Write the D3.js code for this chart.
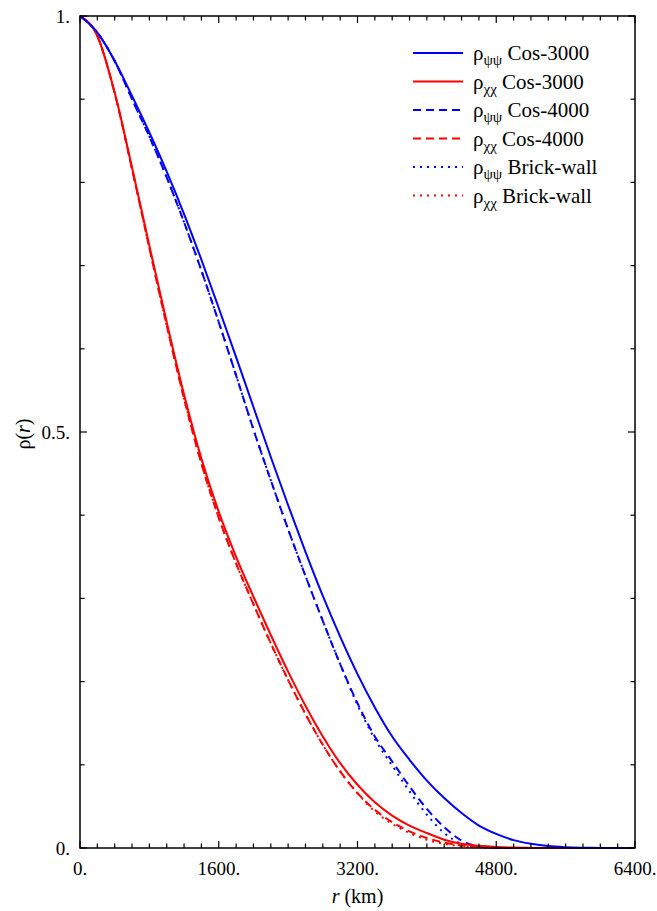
<!DOCTYPE html>
<html>
<head>
<meta charset="utf-8">
<script src="https://cdn.jsdelivr.net/npm/d3@7"></script>
<style>
  body { margin: 0; background: #fff; }
</style>
</head>
<body>
<div class="chart"></div>
<script>
// r grid in km (every 200 km)
const radius = [0,200,400,600,800,1000,1200,1400,1600,1800,2000,2200,2400,2600,2800,3000,
  3200,3400,3600,3800,4000,4200,4400,4600,4800,5000,5200,5400,5600,5800,6000,6200,6400];

// rho_psipsi, Cos-3000
const psiCos3000 = [1,0.98,0.946,0.904,0.86,0.813,0.762,0.707,0.649,0.59,0.53,0.47,0.412,0.356,0.303,0.254,
  0.209,0.169,0.134,0.106,0.081,0.06,0.042,0.027,0.017,0.0095,0.0051,0.0023,0.001,0.0004,0.0001,0,0];
// rho_chichi, Cos-3000
const chiCos3000 = [1,0.976,0.908,0.818,0.724,0.632,0.545,0.468,0.404,0.35,0.302,0.256,0.212,0.171,0.134,0.102,
  0.076,0.055,0.039,0.027,0.018,0.01,0.005,0.0026,0.0012,0.0005,0.0002,0,0,0,0,0,0];
// rho_psipsi, Cos-4000
const psiCos4000 = [1,0.98,0.946,0.9,0.855,0.806,0.752,0.694,0.632,0.568,0.503,0.442,0.383,0.327,0.273,0.221,
  0.174,0.134,0.104,0.074,0.047,0.025,0.009,0.002,0.0003,0,0,0,0,0,0,0,0];
// rho_chichi, Cos-4000
const chiCos4000 = [1,0.976,0.907,0.816,0.721,0.628,0.54,0.462,0.397,0.342,0.293,0.246,0.202,0.161,0.124,0.092,
  0.066,0.046,0.031,0.02,0.012,0.0065,0.003,0.0012,0.0004,0,0,0,0,0,0,0,0];
// rho_psipsi, Brick-wall
const psiBrick = [1,0.98,0.946,0.9,0.855,0.806,0.752,0.694,0.632,0.568,0.503,0.442,0.383,0.327,0.273,0.221,
  0.172,0.131,0.099,0.068,0.04,0.018,0.005,0.0008,0,0,0,0,0,0,0,0,0];
// rho_chichi, Brick-wall
const chiBrick = [1,0.976,0.907,0.816,0.721,0.628,0.54,0.462,0.397,0.342,0.293,0.246,0.202,0.161,0.124,0.092,
  0.066,0.044,0.029,0.018,0.01,0.005,0.002,0.0007,0,0,0,0,0,0,0,0,0];

const seriesNames = ["\u03C8\u03C8", "\u03C7\u03C7", "\u03C8\u03C8", "\u03C7\u03C7", "\u03C8\u03C8", "\u03C7\u03C7"];
const seriesModels = ["Cos-3000", "Cos-3000", "Cos-4000", "Cos-4000", "Brick-wall", "Brick-wall"];
const seriesValues = [psiCos3000, chiCos3000, psiCos4000, chiCos4000, psiBrick, chiBrick];

const xTicks = [0,1600,3200,4800,6400];
const yTicks = [0,0.5,1];

const W = 657, H = 911;
const margin = { top: 16, right: 22, bottom: 63, left: 80 };
const serif = "'Liberation Serif', 'Times New Roman', 'DejaVu Serif', serif";

const colors = ["#0000ff", "#ff0000", "#0000ff", "#ff0000", "#0000ff", "#ff0000"];
const dashes = [null, null, "8,5", "8,5", "2,5", "2,5"];

const svg = d3.select(".chart").append("svg")
  .attr("width", W).attr("height", H)
  .attr("font-family", serif)
  .style("font-family", serif);

const x = d3.scaleLinear().domain([0,6400]).range([margin.left, W - margin.right]);
const y = d3.scaleLinear().domain([0,1]).range([H - margin.bottom, margin.top]);

const line = d3.line()
  .x((d,i) => x(radius[i]))
  .y(d => y(d))
  .curve(d3.curveMonotoneX);

const plot = svg.append("g");
plot.append("defs").append("clipPath").attr("id","clip")
  .append("rect").attr("x", x(0)).attr("y", y(1) - 2)
  .attr("width", x(6400) - x(0)).attr("height", y(0) - y(1) + 3);

// draw in reverse so solid lines sit on top
seriesValues.map((vals, i) => ({vals, i})).reverse().forEach(s => {
  plot.append("path")
    .attr("clip-path", "url(#clip)")
    .attr("d", line(s.vals))
    .attr("fill", "none")
    .attr("stroke", colors[s.i])
    .attr("stroke-width", 2)
    .attr("stroke-dasharray", dashes[s.i]);
});

// frame
svg.append("rect")
  .attr("x", x(0)).attr("y", y(1))
  .attr("width", x(6400) - x(0)).attr("height", y(0) - y(1))
  .attr("fill", "none").attr("stroke", "#000").attr("stroke-width", 1.5);

// ticks, inward on all four sides
const xMinor = d3.range(0, 6401, 200);
const yMinor = d3.range(0, 1.0001, 0.1);
const ticks = svg.append("g").attr("stroke", "#000").attr("stroke-width", 1.2);
xMinor.forEach(v => {
  const len = (v % 1600 === 0) ? 7 : 4.5;
  ticks.append("line").attr("x1", x(v)).attr("x2", x(v)).attr("y1", y(0)).attr("y2", y(0) - len);
  ticks.append("line").attr("x1", x(v)).attr("x2", x(v)).attr("y1", y(1)).attr("y2", y(1) + len);
});
yMinor.forEach(v => {
  const major = Math.abs(v * 2 - Math.round(v * 2)) < 1e-6;
  const len = major ? 7 : 4.5;
  ticks.append("line").attr("y1", y(v)).attr("y2", y(v)).attr("x1", x(0)).attr("x2", x(0) + len);
  ticks.append("line").attr("y1", y(v)).attr("y2", y(v)).attr("x1", x(6400)).attr("x2", x(6400) - len);
});

// tick labels
svg.append("g").selectAll("text").data(xTicks).join("text")
  .attr("x", d => x(d)).attr("y", y(0) + 27)
  .attr("text-anchor", "middle").attr("font-size", 19)
  .text(d => d + ".");
svg.append("g").selectAll("text").data(yTicks).join("text")
  .attr("x", x(0) - 10).attr("y", d => y(d) + 7)
  .attr("text-anchor", "end").attr("font-size", 19)
  .text(d => d + ".");

// axis titles
const xt = svg.append("text").attr("x", (x(0) + x(6400)) / 2).attr("y", 903)
  .attr("text-anchor", "middle").attr("font-size", 20);
xt.append("tspan").attr("font-style", "italic").text("r");
xt.append("tspan").text(" (km)");

const yt = svg.append("text").attr("transform", `translate(30,${y(0.5) + 2}) rotate(-90)`)
  .attr("text-anchor", "middle").attr("font-size", 20);
yt.append("tspan").text("\u03C1(");
yt.append("tspan").attr("font-style", "italic").text("r");
yt.append("tspan").text(")");

// legend
const legend = svg.append("g");
seriesValues.forEach((vals, i) => {
  const ly = 53 + i * 28.5;
  legend.append("line")
    .attr("x1", 413).attr("x2", 463).attr("y1", ly).attr("y2", ly)
    .attr("stroke", colors[i]).attr("stroke-width", 2)
    .attr("stroke-dasharray", dashes[i]);
  const t = legend.append("text").attr("x", 473).attr("y", ly + 7).attr("font-size", 21);
  t.append("tspan").text("\u03C1");
  t.append("tspan").attr("font-size", 15).attr("dy", 5).text(seriesNames[i]);
  t.append("tspan").attr("dy", -5).text(" " + seriesModels[i]);
});
</script>
</body>
</html>
